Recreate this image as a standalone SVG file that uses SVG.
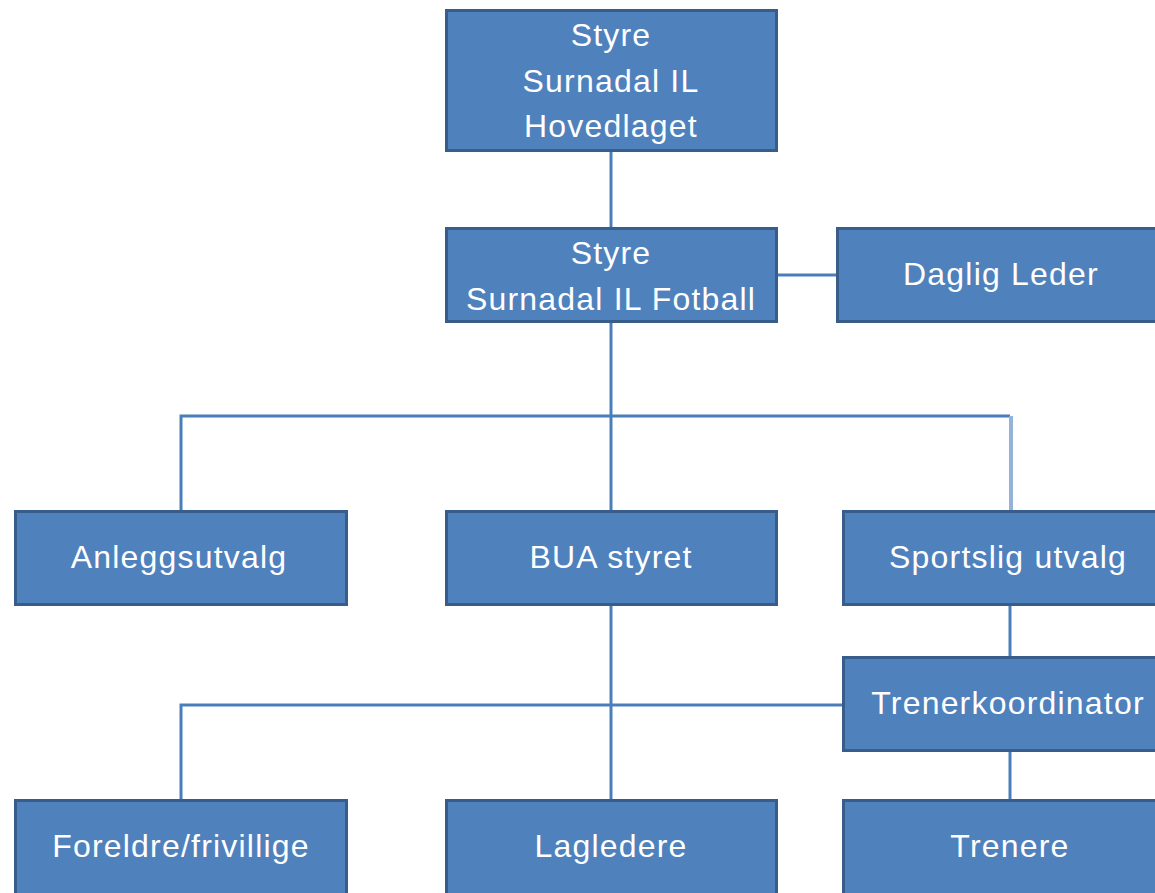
<svg xmlns="http://www.w3.org/2000/svg" width="1155" height="893" viewBox="0 0 1155 893">
<style>
.box{fill:#4F81BD;stroke:#385D8A;stroke-width:3}
.t{fill:#FFFFFF;font-family:"Liberation Sans",Arial,sans-serif;font-size:32px;text-anchor:middle;letter-spacing:1.2px}
.c{stroke:#4A7EBB;stroke-width:3;fill:none}
.cl{stroke:#95B3D7;stroke-width:4;fill:none}
</style>
<rect width="1155" height="893" fill="#FFFFFF"/>
<g id="connectors">
<line class="c" x1="611" y1="151" x2="611" y2="228"/>
<line class="c" x1="777" y1="275" x2="837" y2="275"/>
<line class="c" x1="611" y1="322" x2="611" y2="511"/>
<polyline class="c" points="181,511 181,416 1010,416"/>
<line class="cl" x1="1011" y1="416" x2="1011" y2="511"/>
<line class="c" x1="611" y1="605" x2="611" y2="800"/>
<polyline class="c" points="181,800 181,705 843,705"/>
<line class="c" x1="1010" y1="605" x2="1010" y2="657"/>
<line class="c" x1="1010" y1="751" x2="1010" y2="800"/>
</g>
<g id="n-hovedlaget">
<rect class="box" x="446.5" y="10.5" width="330" height="140"/>
<text class="t" x="611" y="46">Styre</text>
<text class="t" x="611" y="92">Surnadal IL</text>
<text class="t" x="611" y="137">Hovedlaget</text>
</g>
<g id="n-fotball">
<rect class="box" x="446.5" y="228.5" width="330" height="93"/>
<text class="t" x="611" y="264">Styre</text>
<text class="t" x="611" y="310">Surnadal IL Fotball</text>
</g>
<g id="n-daglig">
<rect class="box" x="837.5" y="228.5" width="330" height="93"/>
<text class="t" x="1001" y="285">Daglig Leder</text>
</g>
<g id="n-anlegg">
<rect class="box" x="15.5" y="511.5" width="331" height="93"/>
<text class="t" x="179" y="568">Anleggsutvalg</text>
</g>
<g id="n-bua">
<rect class="box" x="446.5" y="511.5" width="330" height="93"/>
<text class="t" x="611" y="568">BUA styret</text>
</g>
<g id="n-sportslig">
<rect class="box" x="843.5" y="511.5" width="330" height="93"/>
<text class="t" x="1008" y="568">Sportslig utvalg</text>
</g>
<g id="n-trenerkoord">
<rect class="box" x="843.5" y="657.5" width="330" height="93"/>
<text class="t" x="1008" y="714">Trenerkoordinator</text>
</g>
<g id="n-foreldre">
<rect class="box" x="15.5" y="800.5" width="331" height="110"/>
<text class="t" x="181" y="857">Foreldre/frivillige</text>
</g>
<g id="n-lagledere">
<rect class="box" x="446.5" y="800.5" width="330" height="110"/>
<text class="t" x="611" y="857">Lagledere</text>
</g>
<g id="n-trenere">
<rect class="box" x="843.5" y="800.5" width="330" height="110"/>
<text class="t" x="1010" y="857">Trenere</text>
</g>
</svg>
